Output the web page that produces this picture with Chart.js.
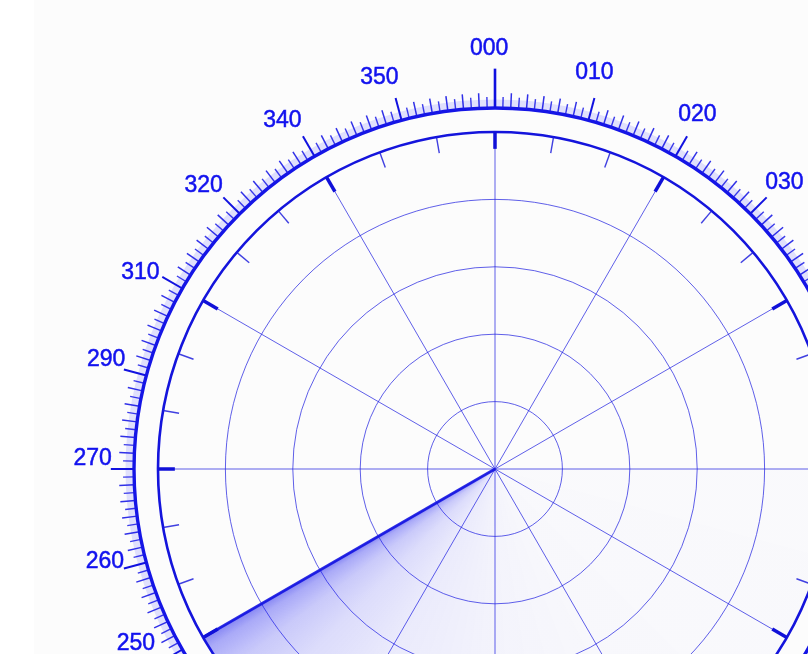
<!DOCTYPE html>
<html><head><meta charset="utf-8">
<script src="https://cdn.jsdelivr.net/npm/chart.js@4.4.1/dist/chart.umd.min.js"></script>
<style>
html,body{margin:0;padding:0;width:808px;height:654px;overflow:hidden;background:#fcfcfc;}
#strip{position:absolute;left:0;top:0;width:34px;height:654px;background:#ffffff;}
#wrap{position:absolute;left:45px;top:19px;width:900px;height:900px;}
</style></head><body>
<div id="strip"></div>
<div id="wrap"><canvas id="c" width="900" height="900"></canvas></div>
<script>
// 12 sectors of 30 degrees (spokes)
const sectorLabels = ['000','030','060','090','120','150','180','210','240','270','300','330'];
// radar sweep: sectors covered by the trailing sweep (range rings 0..5)
const sweepValues = [0,0,0,5,5,5,5,5,0,0,0,0];
const ringMax = 5;
const sweepLeadBearing = 240;
const sweepTailBearing = 90;
// bezel labels as printed on the dial, and their bearings
const dialLabels   = ['000','010','020','030','350','340','320','310','290','270','260','250'];
const dialBearings = [359.2, 14.3, 30.2, 46, 343.3, 328.1, 313.6, 298.2, 284.9, 270.6, 255.8, 243.2];
const bezelTickStep = 1.25;
const innerTickStep = 10;

const BLUE = '#1212ee';
const rad = d => d * Math.PI / 180;

function sweepFill(ctx){
  const s = ctx.chart.scales.r;
  if (!s || s.xCenter === undefined) return 'rgba(30,30,255,0.1)';
  const c = ctx.chart.ctx;
  const g = c.createConicGradient(rad(sweepTailBearing - 90), s.xCenter, s.yCenter);
  const f = b => (b - sweepTailBearing) / 360;
  g.addColorStop(0, 'rgba(40,40,255,0.01)');
  g.addColorStop(f(150), 'rgba(40,40,255,0.02)');
  g.addColorStop(f(180), 'rgba(40,40,255,0.04)');
  g.addColorStop(f(210), 'rgba(30,30,255,0.08)');
  g.addColorStop(f(225), 'rgba(30,30,250,0.14)');
  g.addColorStop(f(233), 'rgba(25,25,245,0.22)');
  g.addColorStop(f(238), 'rgba(25,25,240,0.36)');
  g.addColorStop(f(sweepLeadBearing), 'rgba(20,20,235,0.5)');
  g.addColorStop(f(sweepLeadBearing) + 0.001, 'rgba(20,20,240,0)');
  g.addColorStop(1, 'rgba(20,20,240,0)');
  return g;
}

const bezel = {
  id: 'bezel',
  afterDatasetsDraw(chart){
    const s = chart.scales.r, c = chart.ctx;
    const xc = s.xCenter, yc = s.yCenter;
    const R = v => s.getDistanceFromCenterForValue(v);
    const pt = (b, v) => [xc + R(v) * Math.sin(rad(b)), yc - R(v) * Math.cos(rad(b))];
    const seg = (b, v0, v1, w, col) => {
      const a = pt(b, v0), e = pt(b, v1);
      c.beginPath(); c.moveTo(a[0], a[1]); c.lineTo(e[0], e[1]);
      c.lineWidth = w; c.strokeStyle = col; c.stroke();
    };
    c.save();
    c.lineCap = 'butt';
    // sweep leading edge
    seg(sweepLeadBearing, 0, ringMax, 3, 'rgba(20,20,225,0.9)');
    // inner circle ticks
    for (let b = 0; b < 360; b += innerTickStep) {
      if (b % 30 === 0) seg(b, ringMax, ringMax - 0.25, 3.5, '#1010d8');
      else seg(b, ringMax, ringMax - 0.24, 1.4, 'rgba(30,30,220,0.85)');
    }
    // bezel ghost band + ring
    c.beginPath(); c.arc(xc, yc, R(5.43), 0, Math.PI * 2);
    c.lineWidth = 7; c.strokeStyle = 'rgba(60,60,255,0.14)'; c.stroke();
    c.beginPath(); c.arc(xc, yc, R(5.356), 0, Math.PI * 2);
    c.lineWidth = 3.4; c.strokeStyle = '#1515e6'; c.stroke();
    // bezel ticks
    const n = Math.round(360 / bezelTickStep);
    for (let i = 0; i < n; i++) {
      const b = i * bezelTickStep;
      if (i === 0) seg(b, 5.356, 5.94, 2.6, '#1010e0');
      else if (i % 12 === 0) seg(b, 5.356, 5.70, 2, '#1212e0');
      else if (i % 2 === 0) seg(b, 5.356, 5.58, 1.5, 'rgba(25,25,230,0.9)');
      else seg(b, 5.356, 5.52, 1.4, 'rgba(25,25,230,0.85)');
    }
    // dial labels
    c.fillStyle = BLUE;
    c.strokeStyle = BLUE;
    c.lineWidth = 0.5;
    c.font = '23px "Liberation Sans", Arial, sans-serif';
    c.textAlign = 'center';
    c.textBaseline = 'alphabetic';
    dialLabels.forEach((t, i) => {
      const b = dialBearings[i];
      const p = pt(b, i === 0 ? 6.14 : 5.97);
      c.fillText(t, p[0], p[1]);
      c.strokeText(t, p[0], p[1]);
    });
    c.restore();
  }
};

new Chart(document.getElementById('c'), {
  type: 'polarArea',
  data: {
    labels: sectorLabels,
    datasets: [{
      data: sweepValues,
      backgroundColor: sweepFill,
      borderWidth: 0
    }]
  },
  options: {
    responsive: false,
    animation: false,
    layout: { padding: 113 },
    plugins: { legend: { display: false }, tooltip: { enabled: false } },
    scales: {
      r: {
        min: 0, max: ringMax, startAngle: 0,
        ticks: { display: false, stepSize: 1 },
        pointLabels: { display: false },
        grid: {
          circular: true,
          color: ctx => (ctx.tick && ctx.tick.value === ringMax) ? '#1414dc' : 'rgba(35,35,225,0.72)',
          lineWidth: ctx => (ctx.tick && ctx.tick.value === ringMax) ? 2.6 : 1
        },
        angleLines: { display: true, color: 'rgba(35,35,225,0.72)', lineWidth: 1 }
      }
    }
  },
  plugins: [bezel]
});
</script>
</body></html>
